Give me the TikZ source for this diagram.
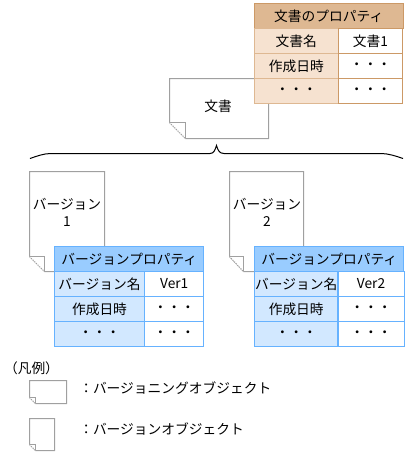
\documentclass[tikz,border=0pt]{standalone}
\usepackage{fontspec}
\setmainfont{Noto Sans CJK JP}
\usetikzlibrary{positioning}
\definecolor{DocGray}{RGB}{160,160,160}
\definecolor{TanHead}{RGB}{222,184,146}
\definecolor{TanLight}{RGB}{246,226,208}
\definecolor{TanLine}{RGB}{204,153,102}
\definecolor{BlueHead}{RGB}{153,204,255}
\definecolor{BlueLight}{RGB}{210,232,255}
\definecolor{BlueLine}{RGB}{102,178,255}
% sheet with a turned corner: left, top, right, bottom, fold x, fold y
\newcommand{\docsheet}[6]{
  \draw[sheet] (#1,#2) -- (#3,#2) -- (#3,#4) -- (#5,#4) -- (#1,#6) -- cycle;
  \draw[sheet] (#1,#6) -- (#5,#6) -- (#5,#4);
  \draw[sheet,densely dotted] (#1,#6) -- (#5,#4);
}
\begin{document}
\begin{tikzpicture}[
    x=0.75pt,y=-0.75pt,
    sheet/.style={draw=DocGray,line width=0.75pt,fill=white},
    lbl/.style={font=\fontsize{10.3}{12.8}\selectfont,inner sep=0pt,align=center},
    cell/.style={lbl,draw,line width=0.75pt,minimum height=18.75pt,anchor=north west,outer sep=0pt},
    tanhead/.style={cell,draw=TanLine,fill=TanHead,minimum width=112.1pt},
    tankey/.style={cell,draw=TanHead,fill=TanLight,minimum width=63.4pt},
    tanval/.style={cell,draw=TanLine,fill=white,minimum width=48.7pt},
    bluehead/.style={cell,draw=BlueLine,fill=BlueHead,minimum width=112.1pt},
    bluekey/.style={cell,draw=BlueLine,fill=BlueLight},
    blueval/.style={cell,draw=BlueLine,fill=white}
  ]
  \useasboundingbox (0,0) rectangle (406,454);
  % Document
  \docsheet{169.5}{78.5}{268.5}{138.5}{185.5}{122.5}
  \node[lbl] (doc) at (218,106) {文書};
  \node[tanhead] (dphead) at (254,3.5) {文書のプロパティ};
  \node[tankey] (dpk1) at (254,28.5) {文書名};
  \node[tanval] (dpv1) at (338,28.5) {文書1};
  \node[tankey] (dpk2) at (254,53.5) {作成日時};
  \node[tanval] (dpv2) at (338,53.5) {・・・};
  \node[tankey] (dpk3) at (254,78.5) {・・・};
  \node[tanval] (dpv3) at (338,78.5) {・・・};
  % Brace
  \coordinate (bl) at (30,158.5);
  \coordinate (blm) at (51,153.5);
  \coordinate (tipl) at (210,153.5);
  \coordinate (tip) at (216.5,145.5);
  \coordinate (tipr) at (224,153.5);
  \coordinate (brm) at (381,153.5);
  \coordinate (br) at (403,158.5);
  \draw[line width=0.75pt] (bl) .. controls (37,156) and (44,153.5) .. (blm) -- (tipl)
    .. controls (214,153.5) and (215,150) .. (tip) .. controls (218,150) and (219,153.5) .. (tipr)
    -- (brm) .. controls (388,153.5) and (396,156) .. (br);
  % Version 1
  \docsheet{29.5}{171.5}{104.5}{271.5}{44.5}{256.5}
  \node[lbl] (ver1) at (67,212) {バージョン\\1};
  \node[bluehead] (vah) at (54.5,246.5) {バージョンプロパティ};
  \node[bluekey,minimum width=67.5pt] (vak1) at (54.5,271.5) {バージョン名};
  \node[blueval,minimum width=44.6pt] (vav1) at (144.5,271.5) {Ver1};
  \node[bluekey,minimum width=67.5pt] (vak2) at (54.5,296.5) {作成日時};
  \node[blueval,minimum width=44.6pt] (vav2) at (144.5,296.5) {・・・};
  \node[bluekey,minimum width=67.5pt] (vak3) at (54.5,321.5) {・・・};
  \node[blueval,minimum width=44.6pt] (vav3) at (144.5,321.5) {・・・};
  % Version 2
  \docsheet{229.5}{171.5}{303.5}{271.5}{243.5}{256.5}
  \node[lbl] (ver2) at (267,212) {バージョン\\2};
  \node[bluehead] (vbh) at (254.5,246.5) {バージョンプロパティ};
  \node[bluekey,minimum width=62.6pt] (vbk1) at (254.5,271.5) {バージョン名};
  \node[blueval,minimum width=49.5pt] (vbv1) at (338,271.5) {Ver2};
  \node[bluekey,minimum width=62.6pt] (vbk2) at (254.5,296.5) {作成日時};
  \node[blueval,minimum width=49.5pt] (vbv2) at (338,296.5) {・・・};
  \node[bluekey,minimum width=62.6pt] (vbk3) at (254.5,321.5) {・・・};
  \node[blueval,minimum width=49.5pt] (vbv3) at (338,321.5) {・・・};
  % Legend
  \node[lbl] (legend) at (31.5,368) {（凡例）};
  \docsheet{29.5}{380.5}{66.5}{403.5}{35.5}{397.5}
  \node[lbl,anchor=west] (leg1) at (79,388) {：バージョニングオブジェクト};
  \docsheet{29.5}{418.5}{54.5}{450.5}{35.5}{444.5}
  \node[lbl,anchor=west] (leg2) at (79,429) {：バージョンオブジェクト};
\end{tikzpicture}
\end{document}
